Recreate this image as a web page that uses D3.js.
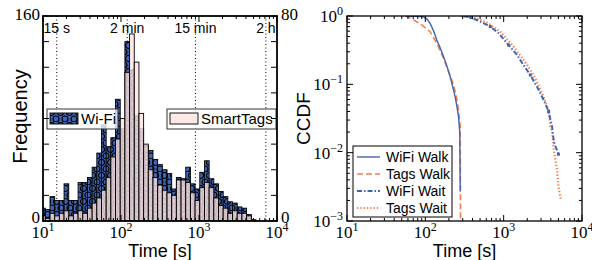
<!DOCTYPE html>
<html>
<head>
<meta charset="utf-8">
<script src="https://cdn.jsdelivr.net/npm/d3@7"></script>
<style>
  body { margin: 0; background: #fff; }
  svg { display: block; }
</style>
</head>
<body>
<div id="chart"></div>
<script>
// ---- data ----
// histogram: 48 log-spaced bins (width 0.06 decade), first edge 10^0.97 s
var binEdges = d3.range(49).map(function (i) { return Math.pow(10, 0.97 + 0.06 * i); });
var wifiCounts = [10, 9, 19, 16, 16, 29, 16, 16, 30, 30, 34, 42, 53, 75, 58, 65, 95, 72, 140, 118,
                  82, 72, 59, 55, 48, 44, 40, 37, 25, 34, 33, 42, 29, 25, 38, 47, 33, 29, 23, 19,
                  15, 14, 11, 10, 5, 1, 0, 0];
var tagsCounts = [2, 1, 3, 2, 3, 4, 2, 3, 4, 3, 5, 7, 9, 12, 17, 25, 32, 40, 58, 73,
                  62, 42, 30, 20, 17, 14, 12, 11, 10, 16, 16, 15, 11, 8, 13, 15, 13, 9, 6, 5,
                  3, 4, 3, 3, 2, 0, 0, 0];
var timeMarks = [15, 120, 900, 7200];
var timeLabels = ["15 s", "2 min", "15 min", "2 h"];
var xTicks = [10, 100, 1000, 10000];

// CCDF curves [time s, ccdf]
var wifiWalk = [[58, 1], [80, 0.99], [95, 0.97], [105, 0.9], [115, 0.78], [128, 0.6], [140, 0.445],
                [155, 0.34], [171, 0.254], [190, 0.18], [207, 0.13], [225, 0.09], [240, 0.066],
                [255, 0.045], [265, 0.034], [275, 0.02], [279, 0.0027]];
var tagsWalk = [[55, 1], [65, 0.93], [74, 0.85], [90, 0.74], [115, 0.59], [140, 0.4], [171, 0.24],
                [198, 0.153], [229, 0.098], [250, 0.065], [265, 0.042], [279, 0.024], [281, 0.001]];
var wifiWait = [[307, 1], [380, 0.95], [456, 0.87], [560, 0.78], [675, 0.7], [861, 0.56], [1000, 0.46],
                [1157, 0.376], [1480, 0.27], [1800, 0.19], [2188, 0.137], [2667, 0.092], [3240, 0.059],
                [3750, 0.04], [4150, 0.024], [4370, 0.0145], [5000, 0.0095]];
var tagsWait = [[285, 1], [393, 0.956], [500, 0.88], [612, 0.8], [906, 0.59], [1100, 0.46], [1340, 0.356],
                [1800, 0.227], [2415, 0.137], [3090, 0.074], [3750, 0.042], [3945, 0.024], [4150, 0.021],
                [4370, 0.011], [4800, 0.0056], [5000, 0.0032], [5400, 0.002]];
var ccdfTicks = [1, 0.1, 0.01, 0.001];

var blue = "#4064b4", orange = "#f47e50", pink = "#ffe4e1";

var W = 592, H = 260;
var svg = d3.select("#chart").append("svg").attr("width", W).attr("height", H);
var defs = svg.append("defs");

// circle hatch for Wi-Fi bars
var pat = defs.append("pattern").attr("id", "hatchO")
  .attr("patternUnits", "userSpaceOnUse").attr("width", 9).attr("height", 13);
pat.append("rect").attr("width", 9).attr("height", 13).attr("fill", blue);
[[4.5, 3.5], [0, 10], [9, 10]].forEach(function (c) {
  pat.append("circle").attr("cx", c[0]).attr("cy", c[1]).attr("r", 3)
    .attr("fill", "none").attr("stroke", "#000").attr("stroke-width", 1.2);
});

var serif = "Liberation Serif, DejaVu Serif, serif";
var sans = "Liberation Sans, Arial, sans-serif";

function powLabel(sel, x, y, exp, anchor) {
  var t = sel.append("text").attr("x", x).attr("y", y)
    .attr("text-anchor", anchor || "middle")
    .style("font-family", serif).style("font-size", "17px");
  t.append("tspan").text("10");
  t.append("tspan").attr("dy", -7).style("font-size", "12px").text(exp);
}

// log ticks (major + minor) pointing inward
function logTicks(g, scale, side, lo, hi, len0, len1, extent) {
  var vals = [];
  for (var e = lo; e <= hi; e++) {
    for (var m = 1; m < 10; m++) {
      var v = m * Math.pow(10, e);
      if (v > Math.pow(10, hi) * 1.0001) break;
      vals.push({ v: v, major: m === 1 });
    }
  }
  vals.forEach(function (d) {
    var p = scale(d.v), L = d.major ? len0 : len1;
    var l = g.append("line").attr("stroke", "#000").attr("stroke-width", 1);
    if (side === "bottom") l.attr("x1", p).attr("x2", p).attr("y1", extent).attr("y2", extent - L);
    if (side === "top") l.attr("x1", p).attr("x2", p).attr("y1", 0).attr("y2", L);
    if (side === "left") l.attr("y1", p).attr("y2", p).attr("x1", 0).attr("x2", L);
    if (side === "right") l.attr("y1", p).attr("y2", p).attr("x1", extent).attr("x2", extent - L);
  });
}

// ================= left panel: histogram =================
var L = { left: 43, top: 16, width: 234, height: 205 };
var g1 = svg.append("g").attr("transform", "translate(" + L.left + "," + L.top + ")");
defs.append("clipPath").attr("id", "clip1").append("rect")
  .attr("width", L.width).attr("height", L.height);

var x1 = d3.scaleLog().domain([10, 10000]).range([0, L.width]);
var yL = d3.scaleLinear().domain([0, 160]).range([L.height, 0]);
var yR = d3.scaleLinear().domain([0, 80]).range([L.height, 0]);

// dotted time reference lines
g1.selectAll(".tm").data(timeMarks).enter().append("line")
  .attr("x1", function (d) { return x1(d); }).attr("x2", function (d) { return x1(d); })
  .attr("y1", 0).attr("y2", L.height)
  .attr("stroke", "#000").attr("stroke-width", 1).attr("stroke-dasharray", "1,2.5");

var bars1 = g1.append("g").attr("clip-path", "url(#clip1)");
bars1.selectAll("rect").data(wifiCounts).enter().append("rect")
  .attr("x", function (d, i) { return x1(binEdges[i]); })
  .attr("width", function (d, i) { return x1(binEdges[i + 1]) - x1(binEdges[i]); })
  .attr("y", function (d) { return yL(d); })
  .attr("height", function (d) { return L.height - yL(d); })
  .attr("fill", "url(#hatchO)").attr("stroke", "#000").attr("stroke-width", 0.9);

// Wi-Fi legend (below SmartTags bars)
function histLegend(g, x, y, w, fill, opacity, label) {
  var lg = g.append("g").attr("transform", "translate(" + x + "," + y + ")");
  lg.append("rect").attr("width", w).attr("height", 20)
    .attr("fill", "#fff").attr("fill-opacity", 0.8).attr("stroke", "#333").attr("stroke-width", 1);
  lg.append("rect").attr("x", 3).attr("y", 4).attr("width", 28).attr("height", 11)
    .attr("fill", fill).attr("fill-opacity", opacity).attr("stroke", "#000").attr("stroke-width", 0.9);
  lg.append("text").attr("x", 34).attr("y", 15)
    .style("font-family", sans).style("font-size", "15px").text(label);
}
histLegend(g1, 4, 93, 71, "url(#hatchO)", 1, "Wi-Fi");

var bars2 = g1.append("g").attr("clip-path", "url(#clip1)");
bars2.selectAll("rect").data(tagsCounts).enter().append("rect")
  .attr("x", function (d, i) { return x1(binEdges[i]); })
  .attr("width", function (d, i) { return x1(binEdges[i + 1]) - x1(binEdges[i]); })
  .attr("y", function (d) { return yR(d); })
  .attr("height", function (d) { return L.height - yR(d); })
  .attr("fill", pink).attr("fill-opacity", 0.8).attr("stroke", "#000").attr("stroke-width", 0.9);

histLegend(g1, 124, 93, 109, pink, 0.8, "SmartTags");

// time labels on top
g1.selectAll(".tl").data(timeMarks).enter().append("text")
  .attr("x", function (d) { return x1(d); }).attr("y", 17)
  .attr("text-anchor", "middle")
  .style("font-family", sans).style("font-size", "14px")
  .text(function (d, i) { return timeLabels[i]; });

// ticks
logTicks(g1, x1, "bottom", 1, 4, 6, 3, L.height);
logTicks(g1, x1, "top", 1, 4, 6, 3, L.height);
yL.ticks(8).forEach(function (v) {
  g1.append("line").attr("x1", 0).attr("x2", 6).attr("y1", yL(v)).attr("y2", yL(v)).attr("stroke", "#000");
});
yR.ticks(8).forEach(function (v) {
  g1.append("line").attr("x1", L.width).attr("x2", L.width - 6).attr("y1", yR(v)).attr("y2", yR(v)).attr("stroke", "#000");
});
g1.append("rect").attr("width", L.width).attr("height", L.height)
  .attr("fill", "none").attr("stroke", "#000").attr("stroke-width", 1.8);

// axis labels
[160, 0].forEach(function (v) {
  g1.append("text").attr("x", -3).attr("y", yL(v) + (v ? 4 : 2)).attr("text-anchor", "end")
    .style("font-family", serif).style("font-size", "17px").text(v);
});
[80, 0].forEach(function (v) {
  g1.append("text").attr("x", L.width + 4).attr("y", yR(v) + (v ? 4 : 2)).attr("text-anchor", "start")
    .style("font-family", serif).style("font-size", "17px").text(v);
});
xTicks.forEach(function (v) {
  powLabel(g1, x1(v), L.height + 17, Math.round(Math.log10(v)));
});
g1.append("text").attr("x", L.width / 2).attr("y", L.height + 36).attr("text-anchor", "middle")
  .style("font-family", sans).style("font-size", "18px").text("Time [s]");
g1.append("text").attr("transform", "rotate(-90)")
  .attr("x", -L.height / 2 + 2).attr("y", -16).attr("text-anchor", "middle")
  .style("font-family", sans).style("font-size", "20px").text("Frequency");

// ================= right panel: CCDF =================
var R = { left: 347, top: 16, width: 235, height: 205 };
var g2 = svg.append("g").attr("transform", "translate(" + R.left + "," + R.top + ")");
defs.append("clipPath").attr("id", "clip2").append("rect")
  .attr("width", R.width).attr("height", R.height);

var x2 = d3.scaleLog().domain([10, 10000]).range([0, R.width]);
var y2 = d3.scaleLog().domain([0.001, 1]).range([R.height, 0]);
var line = d3.line().x(function (d) { return x2(d[0]); }).y(function (d) { return y2(d[1]); });

var series = [
  { name: "WiFi Walk", data: wifiWalk, color: blue, dash: null, w: 1.4 },
  { name: "Tags Walk", data: tagsWalk, color: orange, dash: "6,3", w: 1.6 },
  { name: "WiFi Wait", data: wifiWait, color: blue, dash: "5,2,1.5,2", w: 2, marker: true },
  { name: "Tags Wait", data: tagsWait, color: orange, dash: "1.3,2", w: 2.2 }
];
var lines = g2.append("g").attr("clip-path", "url(#clip2)");
series.slice().reverse().forEach(function (s) {
  lines.append("path").datum(s.data).attr("d", line)
    .attr("fill", "none").attr("stroke", s.color).attr("stroke-width", s.w)
    .attr("stroke-dasharray", s.dash);
  if (s.marker) {
    lines.selectAll(".mk").data(s.data.filter(function (d, i) { return i % 3 === 1; }))
      .enter().append("rect")
      .attr("x", function (d) { return x2(d[0]) - 1.5; }).attr("y", function (d) { return y2(d[1]) - 1.5; })
      .attr("width", 3).attr("height", 3).attr("fill", s.color);
  }
});

logTicks(g2, x2, "bottom", 1, 4, 6, 3, R.height);
logTicks(g2, x2, "top", 1, 4, 6, 3, R.height);
logTicks(g2, y2, "left", -3, 0, 6, 3, R.width);
logTicks(g2, y2, "right", -3, 0, 6, 3, R.width);
g2.append("rect").attr("width", R.width).attr("height", R.height)
  .attr("fill", "none").attr("stroke", "#000").attr("stroke-width", 1.3);

ccdfTicks.forEach(function (v) {
  powLabel(g2, -4, y2(v) + 6, Math.round(Math.log10(v)) === 0 ? "0" : "\u2212" + Math.abs(Math.round(Math.log10(v))), "end");
});
xTicks.forEach(function (v) {
  powLabel(g2, x2(v), R.height + 17, Math.round(Math.log10(v)));
});
g2.append("text").attr("x", R.width / 2).attr("y", R.height + 36).attr("text-anchor", "middle")
  .style("font-family", sans).style("font-size", "18px").text("Time [s]");
g2.append("text").attr("transform", "rotate(-90)")
  .attr("x", -R.height / 2).attr("y", -37).attr("text-anchor", "middle")
  .style("font-family", sans).style("font-size", "19px").text("CCDF");

// legend
var lg2 = g2.append("g").attr("transform", "translate(6,130)");
lg2.append("rect").attr("width", 99).attr("height", 71)
  .attr("fill", "#fff").attr("stroke", "#000").attr("stroke-width", 1);
series.forEach(function (s, i) {
  var yy = 11 + i * 17;
  lg2.append("line").attr("x1", 4).attr("x2", 27).attr("y1", yy).attr("y2", yy)
    .attr("stroke", s.color).attr("stroke-width", s.w).attr("stroke-dasharray", s.dash);
  lg2.append("text").attr("x", 33).attr("y", yy + 5)
    .style("font-family", sans).style("font-size", "14px").text(s.name);
});
</script>
</body>
</html>
